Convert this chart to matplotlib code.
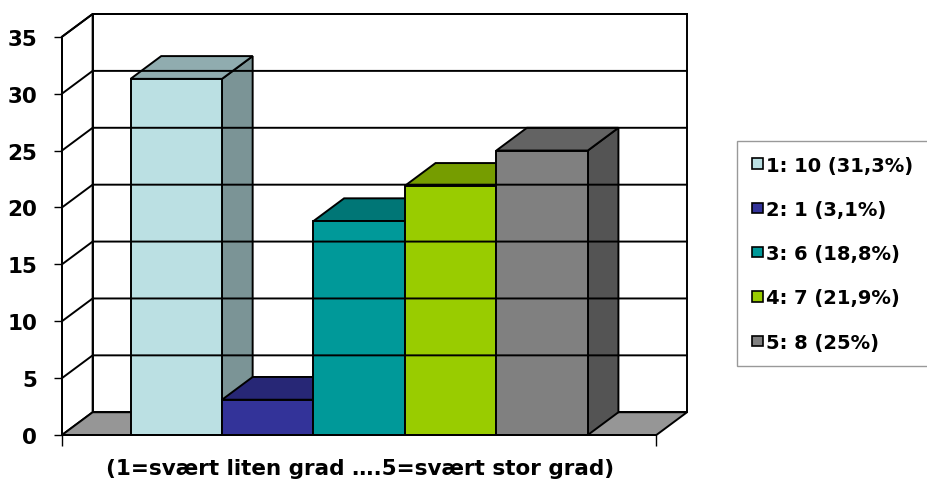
import matplotlib
matplotlib.use('agg')
import matplotlib.pyplot as plt
from matplotlib.patches import Polygon, Patch

# data (share of answers, %)
categories = ["1", "2", "3", "4", "5"]
counts = [10, 1, 6, 7, 8]
percents = [31.3, 3.1, 18.8, 21.9, 25.0]
pct_text = ["31,3%", "3,1%", "18,8%", "21,9%", "25%"]
colors = ["#BBE0E3", "#333399", "#009999", "#99CC00", "#808080"]
yticks = [0, 5, 10, 15, 20, 25, 30, 35]
xlabel = "(1=svært liten grad \u2026.5=svært stor grad)"

ymax = 35
depth_x = 0.335   # fake 3d depth, in x units
depth_y = 2.0     # fake 3d depth, in y units
gap = 0.75        # half of the excel gap width (150%)
front_w = len(categories) + 2 * gap

plt.rcParams['font.family'] = ['DejaVu Sans']
plt.rcParams['font.weight'] = 'bold'


def shade(c, f):
    r, g, b = matplotlib.colors.to_rgb(c)
    return (r * f, g * f, b * f)


fig = plt.figure(figsize=(9.27, 4.81), dpi=100)
ax = fig.add_axes([62 / 927, 45 / 481, 625 / 927, 421 / 481])
ax.set_xlim(0, front_w + depth_x)
ax.set_ylim(0, ymax + depth_y)

lw = 1.4
# left wall and back wall
ax.add_patch(Polygon([(0, 0), (depth_x, depth_y), (depth_x, ymax + depth_y), (0, ymax)],
                     closed=True, facecolor="white", edgecolor="black", lw=lw, clip_on=False))
ax.add_patch(Polygon([(depth_x, depth_y), (front_w + depth_x, depth_y),
                      (front_w + depth_x, ymax + depth_y), (depth_x, ymax + depth_y)],
                     closed=True, facecolor="white", edgecolor="black", lw=lw, clip_on=False))
# gridlines on both walls
for v in yticks[1:]:
    ax.plot([0, depth_x, front_w + depth_x], [v, v + depth_y, v + depth_y],
            color="black", lw=lw, clip_on=False)
# floor
ax.add_patch(Polygon([(0, 0), (front_w, 0), (front_w + depth_x, depth_y), (depth_x, depth_y)],
                     closed=True, facecolor="#969696", edgecolor="black", lw=lw, clip_on=False))

# bars, drawn left to right so that each one covers the side of the previous
for i, (h, c) in enumerate(zip(percents, colors)):
    x0 = gap + i
    x1 = x0 + 1
    ax.add_patch(Polygon([(x1, 0), (x1 + depth_x, depth_y), (x1 + depth_x, h + depth_y), (x1, h)],
                         closed=True, facecolor=shade(c, 0.66), edgecolor="black", lw=lw, clip_on=False))
    ax.add_patch(Polygon([(x0, h), (x1, h), (x1 + depth_x, h + depth_y), (x0 + depth_x, h + depth_y)],
                         closed=True, facecolor=shade(c, 0.77), edgecolor="black", lw=lw, clip_on=False))
    ax.add_patch(Polygon([(x0, 0), (x1, 0), (x1, h), (x0, h)],
                         closed=True, facecolor=c, edgecolor="black", lw=lw, clip_on=False))

for s in ["top", "right"]:
    ax.spines[s].set_visible(False)
ax.spines["left"].set_bounds(0, ymax)
ax.spines["bottom"].set_bounds(0, front_w)
ax.spines["left"].set_linewidth(lw)
ax.spines["bottom"].set_linewidth(lw)
ax.set_yticks(yticks)
ax.set_xticks([0, front_w])
ax.set_xticklabels(["", ""])
ax.tick_params(axis="y", direction="out", length=6, width=1, labelsize=15.5, pad=12)
ax.tick_params(axis="x", direction="out", length=8, width=1)
for t in ax.get_yticklabels():
    t.set_fontweight("bold")

ax.set_xlabel(xlabel, fontsize=15.5, fontweight="bold")
ax.xaxis.set_label_coords((360 - 62) / 625, -0.055)

handles = [Patch(facecolor=c, edgecolor="black", lw=1.2) for c in colors]
labels = ["%s: %d (%s)" % (k, n, p) for k, n, p in zip(categories, counts, pct_text)]
leg = fig.legend(handles, labels, loc="upper left", bbox_to_anchor=(737 / 927, 1 - 142 / 481),
                 prop={"size": 14, "weight": "bold"}, frameon=True, fancybox=False,
                 borderaxespad=0, borderpad=0.75, labelspacing=1.3,
                 handlelength=0.6, handleheight=0.45, handletextpad=0.15)
leg.get_frame().set_edgecolor("#808080")
leg.get_frame().set_linewidth(1)

fig.savefig("out.png", dpi=100)
